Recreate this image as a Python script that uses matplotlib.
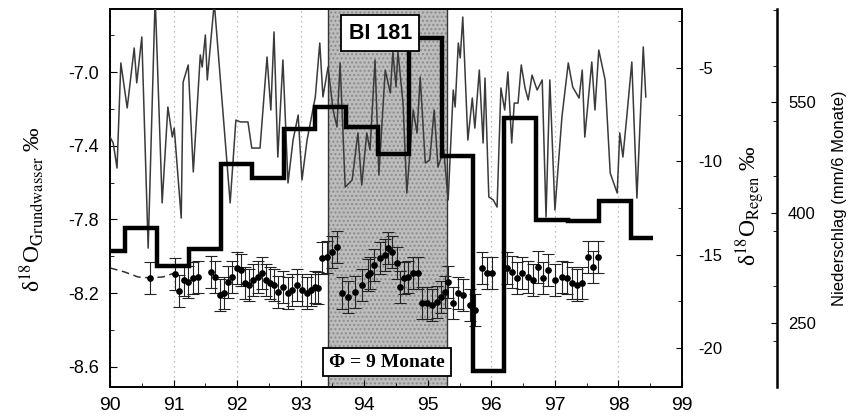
import matplotlib
matplotlib.use("Agg")
import matplotlib.pyplot as plt
from matplotlib.ticker import MultipleLocator

plt.rcParams['font.family'] = ['Liberation Sans', 'DejaVu Sans']
plt.rcParams['mathtext.fontset'] = 'stix'

# --- Niederschlag (half-year sums), step edges in decimal years ---
rain_edges = [89.74, 90.24, 90.74, 91.24, 91.74, 92.24, 92.74, 93.22, 93.72,
              94.22, 94.71, 95.22, 95.71, 96.20, 96.70, 97.20, 97.70, 98.20, 98.55]
rain_mm = [348, 379, 328, 350, 466, 447, 514, 544, 516,
           480, 638, 477, 185, 529, 390, 389, 416, 366]

# --- delta18O precipitation (monthly samples) ---
regen_t = [90.00, 90.05, 90.11, 90.17, 90.27, 90.38, 90.42, 90.50, 90.60, 90.71,
           90.82, 90.91, 90.98, 91.01, 91.12, 91.15, 91.23, 91.31, 91.42, 91.45,
           91.50, 91.53, 91.64, 91.89, 91.98, 92.05, 92.17, 92.23, 92.36, 92.47,
           92.53, 92.58, 92.64, 92.72, 92.80, 92.88, 92.96, 93.02, 93.10, 93.23,
           93.30, 93.35, 93.43, 93.51, 93.57, 93.62, 93.70, 93.81, 93.90, 93.96,
           94.04, 94.09, 94.17, 94.23, 94.33, 94.41, 94.45, 94.50, 94.53, 94.61,
           94.67, 94.77, 94.83, 94.88, 94.96, 95.03, 95.10, 95.16, 95.25, 95.32,
           95.40, 95.43, 95.48, 95.51, 95.55, 95.63, 95.70, 95.74, 95.81, 95.87,
           95.90, 95.96, 96.03, 96.09, 96.15, 96.21, 96.26, 96.32, 96.36, 96.42,
           96.47, 96.53, 96.58, 96.64, 96.72, 96.80, 96.86, 96.92, 97.00, 97.11,
           97.21, 97.28, 97.38, 97.43, 97.47, 97.58, 97.63, 97.69, 97.79, 97.87,
           97.98, 98.02, 98.07, 98.13, 98.21, 98.29, 98.39, 98.43]
regen_d18o = [-8.70, -9.02, -10.36, -4.73, -7.14, -3.93, -5.80, -3.34, -14.65, -1.2,
              -12.23, -7.09, -8.70, -8.22, -13.04, -5.75, -4.84, -10.57, -4.30, -4.95,
              -3.23, -5.64, -1.5, -12.23, -7.79, -7.89, -7.89, -9.29, -9.29, -4.41,
              -7.25, -3.07, -9.77, -4.57, -11.16, -8.86, -7.52, -11.00, -8.86, -6.55,
              -3.66, -6.55, -4.95, -7.25, -8.16, -4.73, -11.38, -11.00, -8.48, -11.27,
              -8.48, -9.39, -4.57, -10.73, -5.11, -6.34, -4.14, -6.02, -4.14, -6.88,
              -11.70, -7.25, -8.48, -5.48, -10.09, -9.93, -7.25, -10.31, -9.39, -12.07,
              -6.18, -7.09, -3.66, -4.46, -2.27, -8.86, -6.61, -8.22, -5.11, -9.02,
              -5.54, -11.91, -12.07, -12.45, -6.07, -7.25, -5.21, -9.02, -6.88, -6.88,
              -4.84, -6.07, -6.71, -5.38, -6.18, -5.64, -12.98, -5.64, -12.61, -7.63,
              -4.73, -6.02, -6.61, -5.11, -8.70, -4.68, -7.25, -4.04, -5.64, -10.63,
              -11.70, -8.48, -9.77, -7.63, -4.68, -11.97, -3.87, -6.55]

# --- delta18O groundwater, well BI 181 ---
gw_t = [90.63, 91.02, 91.09, 91.16, 91.23, 91.31, 91.38, 91.59, 91.65, 91.73,
        91.79, 91.86, 91.92, 92.00, 92.06, 92.12, 92.19, 92.25, 92.33, 92.39,
        92.45, 92.52, 92.58, 92.64, 92.72, 92.80, 92.86, 92.94, 93.02, 93.10,
        93.16, 93.23, 93.27, 93.34, 93.41, 93.49, 93.57, 93.65, 93.74, 93.85,
        93.96, 94.06, 94.09, 94.15, 94.25, 94.33, 94.37, 94.44, 94.52, 94.56,
        94.63, 94.69, 94.77, 94.85, 94.91, 94.99, 95.07, 95.14, 95.21, 95.27,
        95.32, 95.40, 95.48, 95.55, 95.66, 95.74, 95.85, 95.93, 96.01, 96.25,
        96.32, 96.40, 96.48, 96.58, 96.66, 96.73, 96.81, 96.89, 97.00, 97.11,
        97.19, 97.27, 97.35, 97.43, 97.52, 97.60, 97.68]
gw_d18o = [-8.117, -8.096, -8.188, -8.128, -8.139, -8.117, -8.112, -8.085, -8.112, -8.210,
           -8.199, -8.139, -8.112, -8.063, -8.074, -8.144, -8.155, -8.128, -8.112, -8.090,
           -8.128, -8.144, -8.155, -8.193, -8.166, -8.199, -8.182, -8.155, -8.182, -8.199,
           -8.182, -8.166, -8.172, -8.009, -8.003, -7.976, -7.949, -8.199, -8.220, -8.193,
           -8.155, -8.101, -8.090, -8.047, -8.009, -7.993, -7.955, -7.976, -8.036, -8.166,
           -8.117, -8.112, -8.090, -8.090, -8.253, -8.253, -8.264, -8.248, -8.220, -8.193,
           -8.139, -8.253, -8.199, -8.210, -8.264, -8.291, -8.063, -8.090, -8.090, -8.063,
           -8.085, -8.117, -8.090, -8.112, -8.128, -8.058, -8.117, -8.074, -8.128, -8.112,
           -8.117, -8.144, -8.155, -8.144, -8.003, -8.058, -8.003]
gw_err = 0.085

# Fitted curve before the regular sampling starts
fit_t = [90.00, 90.23, 90.44, 90.63, 90.83, 91.02]
fit_d18o = [-8.063, -8.085, -8.112, -8.117, -8.112, -8.090]

# Mean residence-time window
window = (93.43, 95.30)

year_ticks = list(range(90, 100))
year_labels = [str(y) for y in year_ticks]

fig = plt.figure(figsize=(8.55, 4.19), dpi=100)
ax = fig.add_axes([0.1287, 0.0764, 0.669, 0.9021])
ax2 = ax.twinx()
ax3 = ax.twinx()

# shaded window
ax.axvspan(*window, facecolor='#bdbdbd', edgecolor='#8c8c8c', hatch='....',
           linewidth=0, zorder=0)
for xv in window:
    ax.axvline(xv, color='#333333', lw=1.0, zorder=0.5)

ax.grid(axis='x', ls=(0, (1, 3)), color='#a8a8a8', lw=0.9)

# groundwater
ax.plot(fit_t, fit_d18o, ls=(0, (5, 3)), color='#333333', lw=1.1, zorder=2)
ax.errorbar(gw_t, gw_d18o, yerr=gw_err, fmt='o', color='black', ms=3.8,
            ecolor='#222222', elinewidth=0.8, capsize=4, capthick=0.8, zorder=3)

ax.set_xlim(90, 99)
ax.set_ylim(-8.709, -6.658)
ax.set_xticks(year_ticks)
ax.set_xticklabels(year_labels)
ax.xaxis.set_minor_locator(MultipleLocator(0.5))
ax.set_yticks([-7.0, -7.4, -7.8, -8.2, -8.6])
ax.set_yticklabels(['-7.0', '-7.4', '-7.8', '-8.2', '-8.6'])
ax.yaxis.set_minor_locator(MultipleLocator(0.2))
ax.tick_params(axis='x', which='both', direction='in', labelsize=14, pad=7)
ax.tick_params(axis='x', which='major', length=5)
ax.tick_params(axis='x', which='minor', length=3)
ax.tick_params(axis='y', which='both', direction='in', labelsize=13, pad=8)
ax.tick_params(axis='y', which='major', length=5)
ax.tick_params(axis='y', which='minor', length=3)
for s in ax.spines.values():
    s.set_linewidth(1.4)
ax.set_ylabel('δ$^{18}$O$_{\\mathrm{Grundwasser}}$ ‰', fontsize=17,
              family='Liberation Serif')
ax.yaxis.set_label_coords(-0.112, 0.47)

# precipitation isotopes
ax2.plot(regen_t, regen_d18o, color='#3a3a3a', lw=1.1, zorder=2)
ax2.set_ylim(-22.09, -1.84)
ax2.set_yticks([-5, -10, -15, -20])
ax2.set_yticklabels(['-5', '-10', '-15', '-20'])
ax2.yaxis.set_minor_locator(MultipleLocator(2.5))
ax2.tick_params(axis='y', which='both', direction='in', labelsize=12, pad=12)
ax2.tick_params(axis='y', which='major', length=4)
ax2.tick_params(axis='y', which='minor', length=3)
for k in ('top', 'bottom', 'left', 'right'):
    ax2.spines[k].set_visible(False)
ax2.set_ylabel('δ$^{18}$O$_{\\mathrm{Regen}}$ ‰', fontsize=17,
               family='Liberation Serif', rotation=90)
ax2.yaxis.set_label_coords(1.09, 0.48)

# precipitation amount
ax3.stairs(rain_mm, rain_edges, baseline=None, color='black', lw=3.2, zorder=4)
ax3.set_ylim(163, 677)
ax3.spines['right'].set_position(('axes', 1.166))
ax3.spines['right'].set_linewidth(1.8)
for k in ('top', 'bottom', 'left'):
    ax3.spines[k].set_visible(False)
ax3.set_yticks([250, 400, 550])
ax3.yaxis.set_minor_locator(MultipleLocator(75))
ax3.tick_params(axis='y', which='both', direction='in', labelsize=12, pad=8)
ax3.tick_params(axis='y', which='major', length=4)
ax3.tick_params(axis='y', which='minor', length=3)
ax3.set_ylabel('Niederschlag (mm/6 Monate)', fontsize=12)
ax3.yaxis.set_label_coords(1.262, 0.5)

tr = ax3.get_xaxis_transform()
ax3.text(94.25, 0.936, 'BI 181', transform=tr, ha='center', va='center',
         fontsize=15.5, fontweight='bold', zorder=10,
         bbox=dict(boxstyle='square,pad=0.35', fc='white', ec='black', lw=1.3))
ax3.text(94.36, 0.066, 'Φ = 9 Monate', transform=tr, ha='center', va='center',
         fontsize=14, fontweight='bold', family='Liberation Serif', zorder=10,
         bbox=dict(boxstyle='square,pad=0.3', fc='white', ec='black', lw=1.3))

fig.savefig('out.png', dpi=100)
